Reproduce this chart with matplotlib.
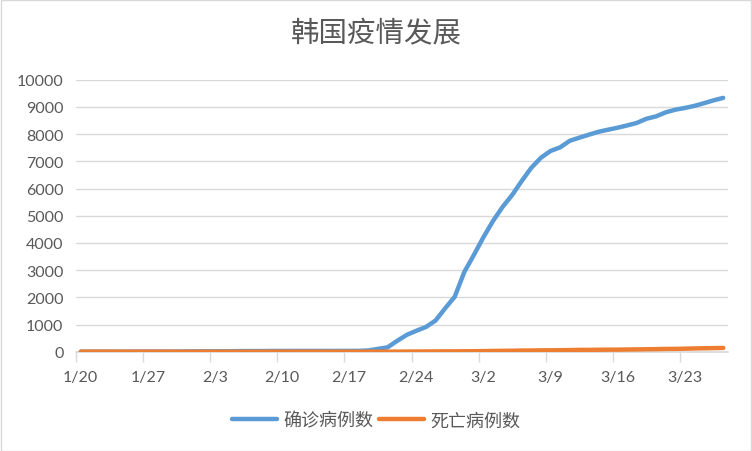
import matplotlib
matplotlib.use("Agg")
import matplotlib.pyplot as plt
from matplotlib.patches import Rectangle
from matplotlib.ticker import FixedLocator, NullFormatter

# ---- data ----
dates = (["1/%d" % d for d in range(20, 32)] +
         ["2/%d" % d for d in range(1, 30)] +
         ["3/%d" % d for d in range(1, 28)])

confirmed = [1, 1, 1, 1, 2, 2, 3, 4, 4, 4, 6, 11,
             12, 15, 15, 16, 19, 23, 24, 24, 27, 27, 28, 28, 28, 28, 28, 29, 30, 31,
             46, 104, 160, 400, 620, 770, 910, 1146, 1595, 2022, 2931,
             3560, 4212, 4812, 5328, 5766, 6284, 6767, 7134, 7382, 7513, 7755, 7869,
             7979, 8086, 8162, 8236, 8320, 8413, 8565, 8652, 8799, 8897, 8961, 9037,
             9137, 9241, 9332]

deaths = [0] * 12 + [0] * 19 + [1, 2, 2, 5, 7, 8, 11, 12, 13, 16] + \
         [17, 22, 28, 32, 35, 42, 44, 50, 51, 54, 60, 66, 67, 72, 75, 75, 81, 84,
          91, 94, 102, 104, 111, 120, 126, 131, 139]

xtick_labels = ["1/20", "1/27", "2/3", "2/10", "2/17", "2/24", "3/2", "3/9", "3/16", "3/23"]
yticks = [0, 1000, 2000, 3000, 4000, 5000, 6000, 7000, 8000, 9000, 10000]
title = "韩国疫情发展"
series_names = ["确诊病例数", "死亡病例数"]
colors = ["#5B9BD5", "#ED7D31"]

# ---- plot ----
W, H = 752, 452
fig = plt.figure(figsize=(W / 100, H / 100), dpi=100)
fig.patches.append(Rectangle((0.5 / W, 0.5 / H), 1 - 1.5 / W, 1 - 1.5 / H,
                             transform=fig.transFigure, fill=False,
                             edgecolor="#D9D9D9", lw=1))

ax = fig.add_axes([76 / W, (H - 352.7) / H, (728 - 76) / W, (352.7 - 80.7) / H])
x = list(range(len(dates)))
ax.plot(x, confirmed, color=colors[0], lw=3.2, solid_capstyle="round",
        solid_joinstyle="round", label=series_names[0], zorder=3)
ax.plot(x, deaths, color=colors[1], lw=3.2, solid_capstyle="round",
        solid_joinstyle="round", label=series_names[1], zorder=4)

ax.set_xlim(-0.5, len(dates) - 0.5)
ax.set_ylim(0, 10000)

# y axis
ax.set_yticks(yticks)
ax.set_yticklabels([str(v) for v in yticks])
ax.tick_params(axis="y", length=0, pad=9, labelsize=11.5, labelcolor="#595959")
ax.grid(axis="y", color="#D9D9D9", lw=1.0)
ax.set_axisbelow(True)

# x axis: tick marks at category boundaries, labels centred on categories
label_pos = [dates.index(l) for l in xtick_labels]
ax.xaxis.set_major_locator(FixedLocator([p - 0.5 for p in label_pos]))
ax.xaxis.set_major_formatter(NullFormatter())
ax.xaxis.set_minor_locator(FixedLocator(label_pos))
ax.set_xticklabels(xtick_labels, minor=True)
ax.tick_params(axis="x", which="major", length=7, width=1, color="#D9D9D9", direction="out")
ax.tick_params(axis="x", which="minor", length=0, pad=13.5, labelsize=11.5, labelcolor="#595959")

for s in ["top", "right", "left"]:
    ax.spines[s].set_visible(False)
ax.spines["bottom"].set_color("#D9D9D9")
ax.spines["bottom"].set_linewidth(1.2)

for lbl in ax.get_xticklabels(minor=True) + ax.get_yticklabels():
    lbl.set_family(["Lato", "DejaVu Sans"])

fig.text(0.5, 1 - 34.5 / H, title, ha="center", va="center", fontsize=20.5,
         color="#595959", family=["Noto Sans CJK SC", "DejaVu Sans"], fontweight="light")

leg = fig.legend(loc="center", bbox_to_anchor=(0.5, 1 - 421.5 / H), ncol=2, frameon=False,
                 handlelength=2.5, handletextpad=0.35, columnspacing=0.3,
                 prop={"family": ["Noto Sans CJK SC", "DejaVu Sans"], "size": 13})
for t in leg.get_texts():
    t.set_color("#595959")
for h in leg.get_lines():
    h.set_linewidth(3.2)

fig.savefig("out.png", dpi=100)
